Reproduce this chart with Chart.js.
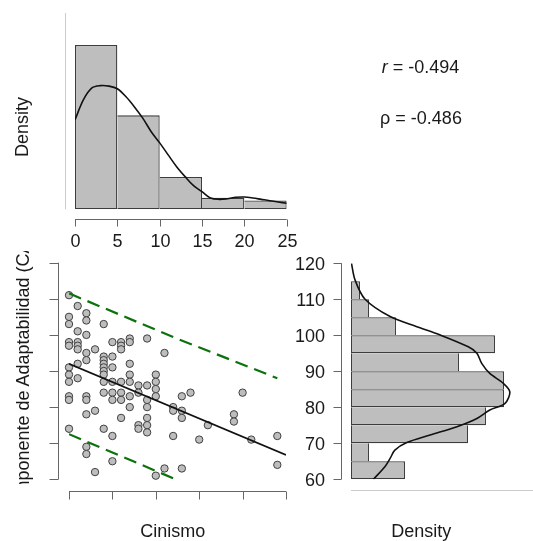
<!DOCTYPE html>
<html>
<head>
<meta charset="utf-8">
<title>Cinismo y Adaptabilidad</title>
<script src="https://cdn.jsdelivr.net/npm/chart.js"></script>
<style>
html, body { margin:0; padding:0; background:#ffffff; }
#wrap { position:relative; width:533px; height:541px; overflow:hidden; background:#fff;
  font-family:"Liberation Sans", Arial, Helvetica, sans-serif; color:#1a1a1a; }
#wrap canvas { position:absolute; left:0; top:0; }
.lbl { position:absolute; font-size:18px; line-height:18px; white-space:nowrap; transform:translateX(-50%); }
.rot { position:absolute; font-size:18px; line-height:18px; white-space:nowrap; transform:translate(-50%,-50%) rotate(-90deg); }
#clipY { position:absolute; left:0; top:251px; width:50px; height:233px; overflow:hidden; }
</style>
</head>
<body>
<div id="wrap">
  <canvas id="cHistX" width="533" height="541"></canvas>
  <canvas id="cScatter" width="533" height="541"></canvas>
  <canvas id="cHistY" width="533" height="541"></canvas>
  <div class="rot" style="left:22px; top:126.7px;">Density</div>
  <div id="clipY"><div class="rot" style="left:22.5px; top:125.5px;">Componente de Adaptabilidad (CA)</div></div>
  <div class="lbl" style="left:172.7px; top:522px;">Cinismo</div>
  <div class="lbl" style="left:421.3px; top:522px;">Density</div>
  <div class="lbl" style="left:420.5px; top:58px;"><i>r</i> = -0.494</div>
  <div class="lbl" style="left:421px; top:108.8px;">ρ = -0.486</div>
</div>
<script>
// ---------------- data ----------------
const cinismoTicks = [0, 5, 10, 15, 20, 25];
const cinismoBinMid = [2.5, 7.5, 12.5, 17.5, 22.5];
const cinismoDensity = [0.1057, 0.0604, 0.0208, 0.0075, 0.0057];
const cinismoCurveX = [0,1,2,3,4,5,6,7,8,9,10,11,12,13,14,15,16,17,18,19,20,21,22,23,24,25];
const cinismoCurveD = [0.0575,0.0705,0.0780,0.0795,0.0792,0.0775,0.0725,0.0660,0.0586,0.0499,0.0427,0.0350,0.0274,0.0210,0.0152,0.0113,0.0073,0.0064,0.0068,0.0077,0.0079,0.0073,0.0064,0.0055,0.0047,0.0039];

const adaptTicks = [60, 70, 80, 90, 100, 110, 120];
const adaptBinMid = [62.5, 67.5, 72.5, 77.5, 82.5, 87.5, 92.5, 97.5, 102.5, 107.5, 112.5];
const adaptDensity = [0.01132, 0.00377, 0.02453, 0.02830, 0.03208, 0.03208, 0.02264, 0.03019, 0.00943, 0.00377, 0.00189];
const adaptCurveY = [60, 63.5, 65.8, 68.1, 70.2, 72.3, 74.6, 76.9, 79.25, 81.1, 84.3, 86.7, 89.4, 92.2, 95.0, 96.8, 100.1, 102.4, 105.2, 110.1, 115.4, 120];
const adaptCurveD = [0.0047, 0.0071, 0.0082, 0.0092, 0.0117, 0.0166, 0.0222, 0.0264, 0.0291, 0.0323, 0.0333, 0.0319, 0.0291, 0.0274, 0.0264, 0.0246, 0.0187, 0.0138, 0.0082, 0.0029, 0.00084, 0.0001];

const scatterCinismo = [
  0,0,0,0,0,0,0,0,0,0,0,
  1,1,1,1,1,1,1,
  2,2,2,2,2,2,2,2,2,2,
  3,3,3,
  4,4,4,4,4,4,4,4,4,4,
  5,5,5,5,5,5,5,5,
  6,6,6,6,6,6,6,
  7,7,7,7,7,7,7,
  8,8,8,8,
  9,9,9,9,9,9,9,
  10,10,10,10,10,
  11,11,
  12,12,12,
  13,13,13,13,
  14, 15, 16,
  19,19,
  20, 21,
  24,24
];
const scatterAdapt = [
  111,105,103,98,97,91,89,87,83,82,74,
  108,101,98,97,96,92,88,
  106,104,100,95,93,83,82,78,69,67,
  96,79,62,
  103,94,93,92,91,90,89,87,84,74,
  98,94,91,87,84,82,72,65,
  98,97,96,87,84,82,77,
  99,98,92,89,87,83,80,
  86,84,75,74,
  99,86,82,80,77,75,73,
  89,87,85,83,61,
  95,63,
  80,79,72,
  83,79,77,63,
  84, 71, 75,
  78,76,
  84, 71,
  72,64
];
const fitX = [0, 25];
const fitY = [92.0, 66.75];
const bandX = [0, 12, 24];
const bandUpper = [111.5, 99.4, 88.0];
const bandLower = [72.5, 60.3, 47.5];

// ---------------- style ----------------
const FONT = '18px "Liberation Sans", Arial, Helvetica, sans-serif';
const TEXT = '#1a1a1a', AXIS = '#666666', FAINT = '#cccccc';
const BAR_FILL = '#bebebe', BAR_LINE = '#3c3c3c';
const PT_FILL = '#bdbdbd', PT_LINE = '#404040';
const GREEN = '#0c720c';
const BW = 1.3;

const zip = (xs, ys) => xs.map((x, i) => ({x: x, y: ys[i]}));

function seg(ctx, x1, y1, x2, y2) {
  ctx.beginPath(); ctx.moveTo(x1, y1); ctx.lineTo(x2, y2); ctx.stroke();
}
const crisp = v => Math.round(v) + 0.5;

// shared-edge owner: the longer bar draws the common edge
function edgeOwner(values, i) {
  const n = values.length, v = values[i];
  return {
    prev: i === 0 || values[i - 1] < v,
    next: i === n - 1 || values[i + 1] <= v
  };
}

const baseOpts = (pad) => ({
  responsive: false,
  animation: false,
  devicePixelRatio: 1,
  events: [],
  layout: { padding: pad },
  plugins: { legend: { display: false }, tooltip: { enabled: false }, title: { display: false } }
});

// ---------------- top histogram (Cinismo) ----------------
new Chart(document.getElementById('cHistX'), {
  type: 'bar',
  data: {
    datasets: [
      {
        type: 'line',
        data: zip(cinismoCurveX, cinismoCurveD),
        borderColor: '#111', borderWidth: 1.6, pointRadius: 0, tension: 0.35, fill: false
      },
      {
        type: 'bar',
        data: zip(cinismoBinMid, cinismoDensity),
        backgroundColor: BAR_FILL, borderColor: BAR_LINE,
        borderSkipped: false, barPercentage: 1, categoryPercentage: 1, inflateAmount: 0,
        borderWidth: (c) => {
          if (c.dataIndex === undefined) return 1;
          const o = edgeOwner(cinismoDensity, c.dataIndex);
          return { top: BW, bottom: BW, left: o.prev ? BW : 0, right: o.next ? BW : 0 };
        }
      }
    ]
  },
  options: Object.assign(baseOpts({ left: 75, right: 533 - 286.7, top: 13, bottom: 541 - 209.3 }), {
    scales: {
      x: { type: 'linear', min: 0, max: 25, offset: false, display: false, ticks: { stepSize: 5 } },
      y: { type: 'linear', min: 0, max: 0.1262, display: false }
    }
  }),
  plugins: [{
    id: 'axesTop',
    afterDraw(chart) {
      const { ctx, scales: { x, y } } = chart;
      ctx.save();
      ctx.lineWidth = 1;
      ctx.strokeStyle = AXIS;
      const yA = crisp(219);
      seg(ctx, x.getPixelForValue(0), yA, x.getPixelForValue(25), yA);
      ctx.font = FONT; ctx.fillStyle = TEXT; ctx.textAlign = 'center'; ctx.textBaseline = 'alphabetic';
      cinismoTicks.forEach(v => {
        const px = crisp(x.getPixelForValue(v));
        seg(ctx, px, yA, px, yA + 7);
        ctx.fillText(String(v), px, 246.5);
      });
      ctx.strokeStyle = FAINT;
      const xA = crisp(65);
      seg(ctx, xA, y.getPixelForValue(y.max), xA, y.getPixelForValue(0));
      ctx.restore();
    }
  }]
});

// ---------------- scatter ----------------
new Chart(document.getElementById('cScatter'), {
  type: 'scatter',
  data: {
    datasets: [
      { data: zip(bandX, bandUpper), showLine: true, borderColor: GREEN, borderWidth: 2.2, borderDash: [13, 7], pointRadius: 0, fill: false },
      { data: zip(bandX, bandLower), showLine: true, borderColor: GREEN, borderWidth: 2.2, borderDash: [13, 7], pointRadius: 0, fill: false },
      { data: zip(fitX, fitY), showLine: true, borderColor: '#111', borderWidth: 1.6, pointRadius: 0, fill: false },
      { data: zip(scatterCinismo, scatterAdapt), showLine: false, clip: false,
        pointRadius: 3.7, pointBackgroundColor: PT_FILL, pointBorderColor: PT_LINE, pointBorderWidth: 1 }
    ]
  },
  options: Object.assign(baseOpts({ left: 69, right: 533 - 286, top: 262.7, bottom: 541 - 479.3 }), {
    scales: {
      x: { type: 'linear', min: 0, max: 25, display: false },
      y: { type: 'linear', min: 60, max: 120, display: false }
    }
  }),
  plugins: [{
    id: 'axesScatter',
    afterDraw(chart) {
      const { ctx, scales: { x, y } } = chart;
      ctx.save();
      ctx.lineWidth = 1;
      ctx.strokeStyle = AXIS;
      const yA = crisp(490.5);
      seg(ctx, x.getPixelForValue(0), yA, x.getPixelForValue(25), yA);
      cinismoTicks.forEach(v => {
        const px = crisp(x.getPixelForValue(v));
        seg(ctx, px, yA, px, yA + 8);
      });
      const xA = crisp(58);
      seg(ctx, xA, y.getPixelForValue(60), xA, y.getPixelForValue(120));
      adaptTicks.forEach(v => {
        const py = crisp(y.getPixelForValue(v));
        seg(ctx, xA - 9, py, xA, py);
      });
      ctx.restore();
    }
  }]
});

// ---------------- right histogram (Adaptabilidad) ----------------
new Chart(document.getElementById('cHistY'), {
  type: 'bar',
  data: {
    datasets: [
      {
        type: 'line', indexAxis: 'y',
        data: zip(adaptCurveD, adaptCurveY),
        borderColor: '#111', borderWidth: 1.6, pointRadius: 0, tension: 0.3, fill: false
      },
      {
        type: 'bar',
        data: zip(adaptDensity, adaptBinMid),
        backgroundColor: BAR_FILL, borderColor: BAR_LINE,
        borderSkipped: false, barPercentage: 1, categoryPercentage: 1, inflateAmount: 0,
        borderWidth: (c) => {
          if (c.dataIndex === undefined) return 1;
          const o = edgeOwner(adaptDensity, c.dataIndex);
          return { left: 1, right: BW, bottom: o.prev ? BW : 0, top: o.next ? BW : 0 };
        }
      }
    ]
  },
  options: Object.assign(baseOpts({ left: 351, right: 0, top: 263.3, bottom: 541 - 479.3 }), {
    indexAxis: 'y',
    scales: {
      x: { type: 'linear', min: 0, max: 0.03816, display: false },
      y: { type: 'linear', min: 60, max: 120, offset: false, display: false, ticks: { stepSize: 10 } }
    }
  }),
  plugins: [{
    id: 'axesRight',
    afterDraw(chart) {
      const { ctx, scales: { x, y } } = chart;
      ctx.save();
      ctx.lineWidth = 1;
      ctx.strokeStyle = AXIS;
      const xA = crisp(341);
      seg(ctx, xA, y.getPixelForValue(60), xA, y.getPixelForValue(120));
      ctx.font = FONT; ctx.fillStyle = TEXT; ctx.textAlign = 'right'; ctx.textBaseline = 'alphabetic';
      adaptTicks.forEach(v => {
        const py = y.getPixelForValue(v);
        seg(ctx, xA - 8, crisp(py), xA, crisp(py));
        ctx.fillText(String(v), 325, py + 6.5);
      });
      ctx.strokeStyle = FAINT;
      const yB = crisp(490);
      seg(ctx, x.getPixelForValue(0), yB, 533, yB);
      ctx.restore();
    }
  }]
});
</script>
</body>
</html>
